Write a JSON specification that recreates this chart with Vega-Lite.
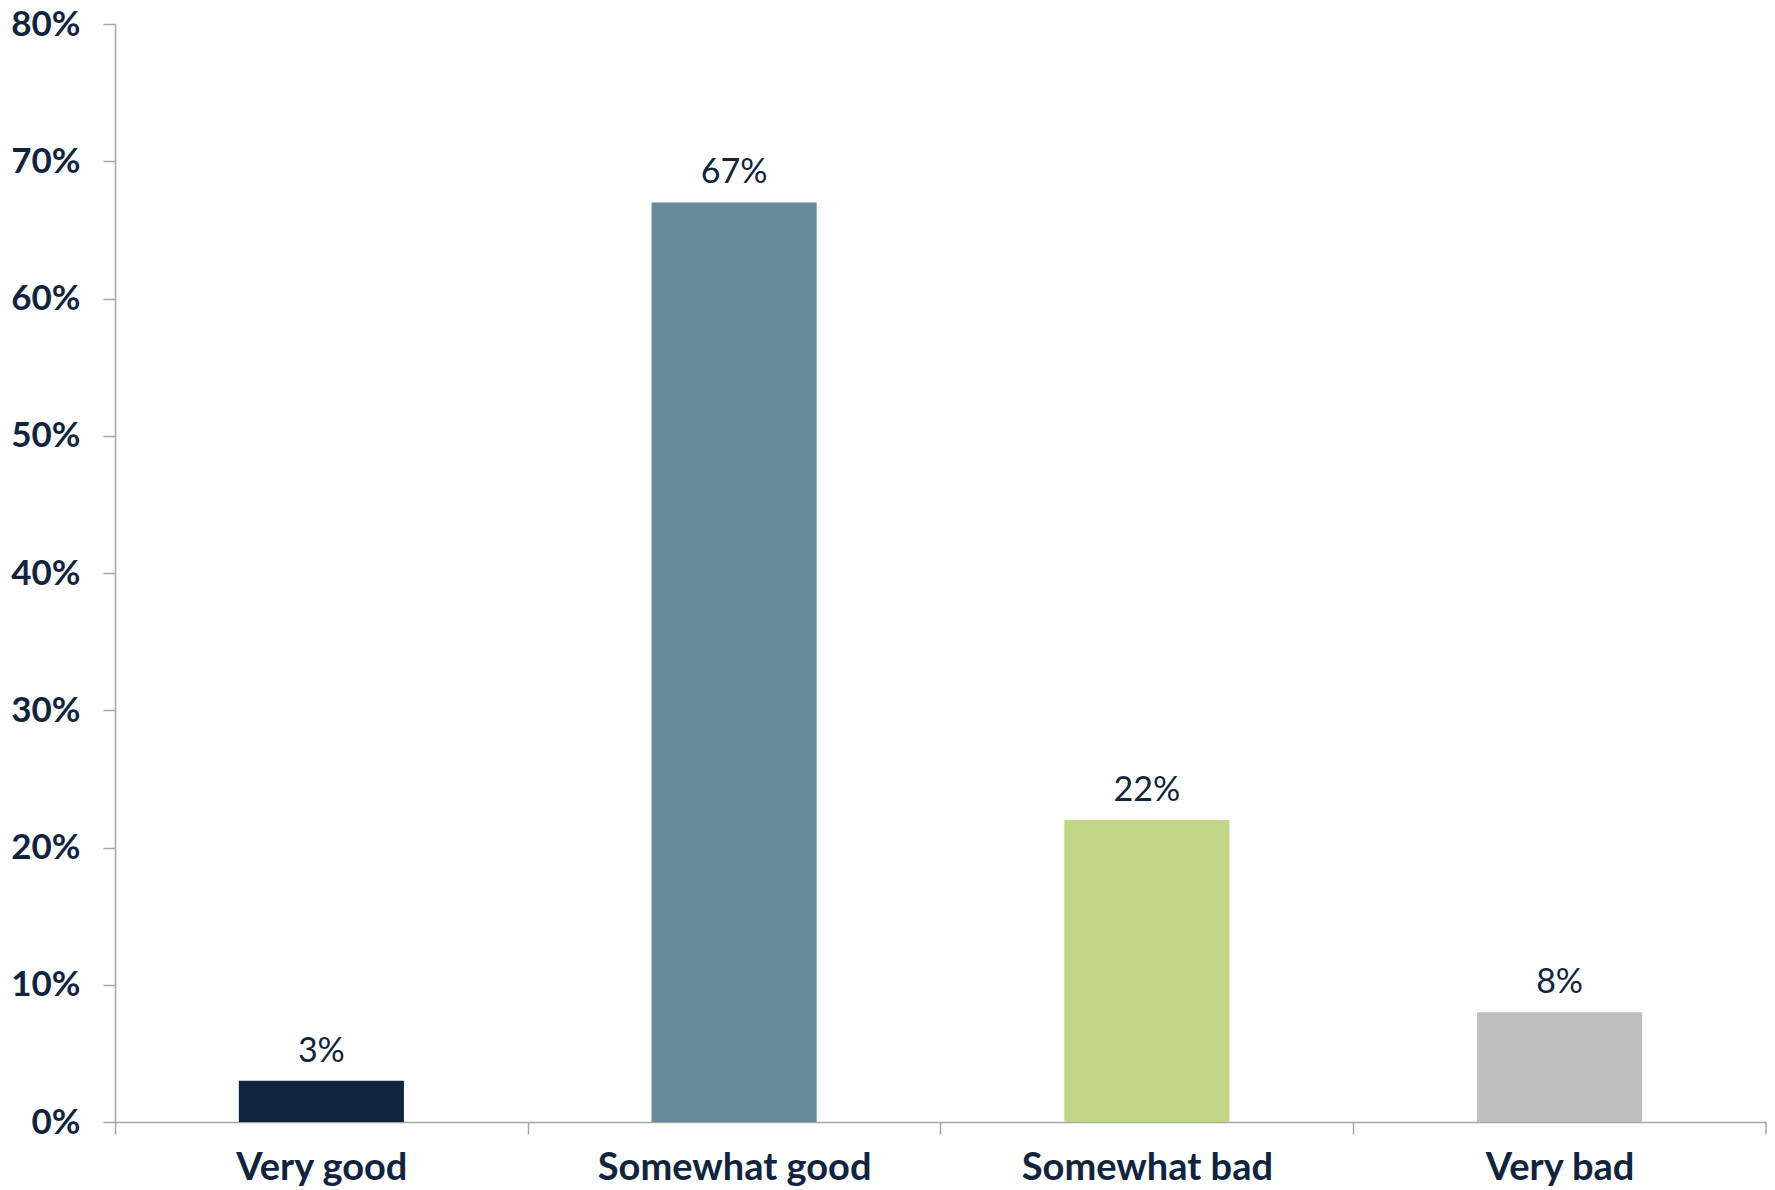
{
  "$schema": "https://vega.github.io/schema/vega-lite/v6.json",
  "autosize": {"type": "none"},
  "width": 1651,
  "height": 1098,
  "padding": {"left": 115, "top": 24, "right": 9, "bottom": 68},
  "background": "white",
  "config": {"view": {"stroke": null}},
  "data": {"values": [
    {"cat": "Very good", "pct": 0.03, "label": "3%"},
    {"cat": "Somewhat good", "pct": 0.67, "label": "67%"},
    {"cat": "Somewhat bad", "pct": 0.22, "label": "22%"},
    {"cat": "Very bad", "pct": 0.08, "label": "8%"}
  ]},
  "encoding": {
    "x": {
      "field": "cat", "type": "nominal", "sort": null, "title": null,
      "scale": {"paddingInner": 0.6, "paddingOuter": 0.3},
      "axis": {
        "labelAngle": 0, "labelFont": "Lato", "labelFontWeight": "bold", "labelFontSize": 38,
        "labelColor": "#10243E", "labelPadding": 15, "labelLimit": 0, "labelOffset": 206.4,
        "tickSize": 12, "tickOffset": -206.4,
        "tickColor": "#A6A6A6", "domainColor": "#A6A6A6", "tickWidth": 1.5, "domainWidth": 1.5
      }
    }
  },
  "layer": [
    {
      "mark": {"type": "bar"},
      "encoding": {
        "y": {
          "field": "pct", "type": "quantitative", "title": null,
          "scale": {"domain": [0, 0.8], "nice": false},
          "axis": {
            "values": [0, 0.1, 0.2, 0.3, 0.4, 0.5, 0.6, 0.7, 0.8], "format": ".0%", "grid": false,
            "labelFont": "Lato", "labelFontWeight": "bold", "labelFontSize": 35, "labelColor": "#10243E",
            "labelPadding": 23, "tickSize": 12, "tickColor": "#A6A6A6", "domainColor": "#A6A6A6",
            "tickWidth": 1.5, "domainWidth": 1.5
          }
        },
        "color": {
          "field": "cat", "type": "nominal", "legend": null,
          "scale": {
            "domain": ["Very good", "Somewhat good", "Somewhat bad", "Very bad"],
            "range": ["#10243E", "#67899C", "#C0D588", "#BFBFBF"]
          }
        }
      }
    },
    {
      "mark": {"type": "text", "baseline": "alphabetic", "dy": -19, "font": "Lato", "fontSize": 34, "color": "#10243E"},
      "encoding": {
        "y": {"field": "pct", "type": "quantitative"},
        "text": {"field": "label"}
      }
    },
    {
      "transform": [{"filter": "datum.cat === 'Very bad'"}],
      "mark": {"type": "rule", "color": "#A6A6A6", "strokeWidth": 1.5},
      "encoding": {
        "x": {"field": "cat", "type": "nominal", "sort": null, "bandPosition": 1.75},
        "y": {"datum": 0},
        "y2": {"datum": -0.0088}
      }
    }
  ]
}
